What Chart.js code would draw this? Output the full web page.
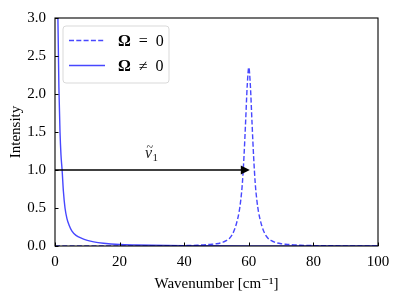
<!DOCTYPE html>
<html>
<head>
<meta charset="utf-8">
<script src="https://cdn.jsdelivr.net/npm/chart.js@4.4.1/dist/chart.umd.min.js"></script>
<style>
    html, body { margin: 0; padding: 0; background: #fff; }
</style>
</head>
<body>
<canvas id="chart" width="399" height="299"></canvas>
<script>
// Spectrum data

const solidX = [0, 0.3, 0.6, 0.9, 1.2, 1.55, 1.85, 2.2, 2.6, 3.1, 3.7, 4.4, 5.2, 6.5, 8.3, 10, 12, 15, 20, 25, 30, 40, 50, 60, 70, 80, 100];
const solidY = [12, 8, 4.5, 3.0, 2.1, 1.5, 1.2, 1.0, 0.72, 0.5, 0.36, 0.27, 0.2, 0.14, 0.1, 0.075, 0.055, 0.037, 0.02, 0.013, 0.009, 0.005, 0.003, 0.002, 0.0015, 0.001, 0.0007];

const dashedX = [0, 20, 30, 35, 40, 42, 44, 46, 48, 50, 52, 53, 54, 55, 56, 57, 57.5, 58, 58.5, 59, 59.5, 60, 60.5, 61, 61.5, 62, 62.5, 63, 64, 65, 66, 67, 68, 70, 72, 74, 76, 78, 80, 85, 90, 100];
const dashedY = [0, 0.001, 0.002, 0.003, 0.005, 0.008, 0.01, 0.015, 0.022, 0.03, 0.05, 0.07, 0.1, 0.16, 0.27, 0.45, 0.6, 0.82, 1.17, 1.62, 2.1, 2.35, 2.1, 1.62, 1.17, 0.82, 0.6, 0.45, 0.27, 0.16, 0.1, 0.07, 0.05, 0.03, 0.022, 0.015, 0.01, 0.008, 0.005, 0.003, 0.002, 0.001];

const seriesLabels = ['\u03A9 = 0', '\u03A9 \u2260 0'];

const xTicks = [0, 20, 40, 60, 80, 100];
const yTicks = [0, 0.5, 1.0, 1.5, 2.0, 2.5, 3.0];

const arrowFrom = [0, 1.0];
const arrowTo = [60, 1.0];
const arrowLabelAt = [30, 1.22];

const serif = '"Liberation Serif", "DejaVu Serif", serif';
const lineBlue = 'rgba(0, 0, 255, 0.72)';

const toPoints = (xs, ys) => xs.map((x, i) => ({ x, y: ys[i] }));

const decorPlugin = {
    id: 'decor',
    afterDatasetsDraw(chart) {
        const { ctx, chartArea: a, scales: { x, y } } = chart;
        ctx.save();

        // arrow with label
        const ax0 = x.getPixelForValue(arrowFrom[0]);
        const ay0 = y.getPixelForValue(arrowFrom[1]);
        const ax1 = x.getPixelForValue(arrowTo[0]);
        const ay1 = y.getPixelForValue(arrowTo[1]);
        ctx.strokeStyle = '#000';
        ctx.fillStyle = '#000';
        ctx.lineWidth = 1.4;
        ctx.beginPath();
        ctx.moveTo(ax0, ay0);
        ctx.lineTo(ax1 - 7, ay1);
        ctx.stroke();
        ctx.beginPath();
        ctx.moveTo(ax1 + 1, ay1);
        ctx.lineTo(ax1 - 8, ay1 - 4.5);
        ctx.lineTo(ax1 - 8, ay1 + 4.5);
        ctx.closePath();
        ctx.fill();

        // nu-tilde with subscript 1
        const lx = x.getPixelForValue(arrowLabelAt[0]) - 7;
        const ly = y.getPixelForValue(arrowLabelAt[1]) + 5;
        ctx.fillStyle = '#222';
        ctx.textBaseline = 'alphabetic';
        ctx.textAlign = 'left';
        ctx.font = `italic 16px ${serif}`;
        const nuW = ctx.measureText('\u03BD').width;
        ctx.fillText('\u03BD', lx, ly);
        ctx.font = `12px ${serif}`;
        ctx.fillText('~', lx + 1.5, ly - 7);
        ctx.font = `11px ${serif}`;
        ctx.fillText('1', lx + nuW + 0.5, ly + 3);

        // frame
        ctx.strokeStyle = '#000';
        ctx.lineWidth = 1.1;
        ctx.strokeRect(a.left, a.top, a.right - a.left, a.bottom - a.top);

        // inward ticks
        ctx.lineWidth = 1;
        x.ticks.forEach(t => {
            const px = Math.round(x.getPixelForValue(t.value)) + 0.5;
            ctx.beginPath();
            ctx.moveTo(px, a.bottom);
            ctx.lineTo(px, a.bottom - 3.5);
            ctx.stroke();
        });
        y.ticks.forEach(t => {
            const py = Math.round(y.getPixelForValue(t.value)) + 0.5;
            ctx.beginPath();
            ctx.moveTo(a.left, py);
            ctx.lineTo(a.left + 3.5, py);
            ctx.stroke();
        });

        // legend box
        const bx = a.left + 8, by = a.top + 8, bw = 106, bh = 57;
        ctx.beginPath();
        ctx.roundRect(bx, by, bw, bh, 3);
        ctx.fillStyle = 'rgba(255, 255, 255, 0.8)';
        ctx.fill();
        ctx.strokeStyle = '#d9d9d9';
        ctx.lineWidth = 1;
        ctx.stroke();

        chart.data.datasets.forEach((ds, i) => {
            const rowY = by + 14.5 + i * 25;
            ctx.strokeStyle = ds.borderColor;
            ctx.lineWidth = ds.borderWidth;
            ctx.setLineDash(ds.borderDash || []);
            ctx.beginPath();
            ctx.moveTo(bx + 6, rowY);
            ctx.lineTo(bx + 42, rowY);
            ctx.stroke();
            ctx.setLineDash([]);

            const omega = seriesLabels[i].slice(0, 1);
            const rest = seriesLabels[i].slice(1).split(' ').join('  ');
            ctx.fillStyle = '#000';
            ctx.textBaseline = 'middle';
            ctx.font = `bold 16px ${serif}`;
            ctx.fillText(omega, bx + 55, rowY + 1);
            const ow = ctx.measureText(omega).width;
            ctx.font = `16px ${serif}`;
            ctx.fillText(rest, bx + 55 + ow, rowY + 1);
        });

        ctx.restore();
    }
};

new Chart(document.getElementById('chart'), {
    type: 'line',
    data: {
        datasets: [{
            label: seriesLabels[0],
            data: toPoints(dashedX, dashedY),
            borderColor: lineBlue,
            borderWidth: 1.4,
            borderDash: [5, 2.3],
            pointRadius: 0,
            fill: false,
            cubicInterpolationMode: 'monotone'
        }, {
            label: seriesLabels[1],
            data: toPoints(solidX, solidY),
            borderColor: lineBlue,
            borderWidth: 1.4,
            pointRadius: 0,
            fill: false,
            cubicInterpolationMode: 'monotone'
        }]
    },
    options: {
        responsive: false,
        animation: false,
        devicePixelRatio: 1,
        layout: { padding: { top: 14, right: 21, left: 0, bottom: 0 } },
        plugins: {
            legend: { display: false },
            tooltip: { enabled: false }
        },
        scales: {
            x: {
                type: 'linear',
                min: 0,
                max: 100,
                afterBuildTicks: scale => { scale.ticks = xTicks.map(value => ({ value })); },
                afterFit: scale => { scale.height = 53; },
                grid: { display: false, drawTicks: false },
                border: { display: false },
                ticks: {
                    color: '#000',
                    padding: 7,
                    font: { family: serif, size: 15 },
                    maxRotation: 0
                },
                title: {
                    display: true,
                    text: 'Wavenumber [cm\u207B\u00B9]',
                    color: '#000',
                    font: { family: serif, size: 15 },
                    padding: { top: 0, bottom: 6 }
                }
            },
            y: {
                type: 'linear',
                min: 0,
                max: 3,
                afterBuildTicks: scale => { scale.ticks = yTicks.map(value => ({ value })); },
                afterFit: scale => { scale.width = 55; },
                grid: { display: false, drawTicks: false },
                border: { display: false },
                ticks: {
                    color: '#000',
                    padding: 9,
                    font: { family: serif, size: 15 },
                    callback: v => v.toFixed(1)
                },
                title: {
                    display: true,
                    text: 'Intensity',
                    color: '#000',
                    font: { family: serif, size: 15 },
                    padding: { top: 7, bottom: 0 }
                }
            }
        }
    },
    plugins: [decorPlugin]
});
</script>
</body>
</html>
